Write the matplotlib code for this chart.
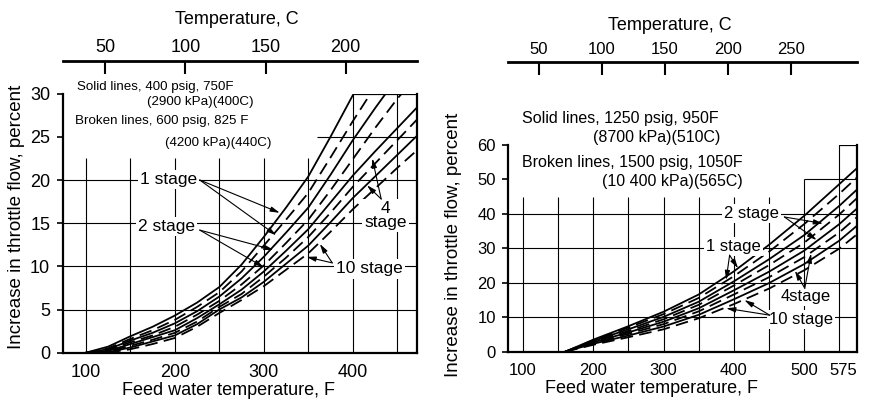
import matplotlib
matplotlib.use('Agg')
import matplotlib.pyplot as plt

plt.rcParams['font.family'] = ['Liberation Sans', 'DejaVu Sans']

# ---- left chart: 400 psig / 600 psig, throttle flow increase (%) vs feed water temp (F)
lo_1s_x = [100, 125, 150, 175, 200, 225, 250, 275, 300, 325, 350, 375, 400, 401]
lo_1s_y = [0, 0.7, 1.9, 3.0, 4.3, 5.8, 7.6, 10.2, 13.4, 16.8, 20.4, 25.0, 29.8, 30]
lo_1b_x = [100, 125, 150, 175, 200, 225, 250, 275, 300, 325, 350, 375, 400, 420]
lo_1b_y = [0, 0.5, 1.6, 2.6, 3.8, 5.3, 7.0, 9.4, 12.4, 15.4, 18.5, 22.6, 26.8, 30]
lo_2s_x = [100, 125, 150, 175, 200, 225, 250, 275, 300, 325, 350, 375, 400, 425, 437]
lo_2s_y = [0, 0.4, 1.4, 2.3, 3.4, 4.8, 6.5, 8.6, 11.1, 13.9, 16.8, 20.6, 24.6, 28.3, 30]
lo_2b_x = [100, 125, 150, 175, 200, 225, 250, 275, 300, 325, 350, 375, 400, 425, 450, 455]
lo_2b_y = [0, 0.3, 1.2, 2.0, 3.0, 4.4, 6.0, 7.9, 10.1, 12.7, 15.4, 18.8, 22.4, 26.0, 29.4, 30]
lo_4s_x = [105, 125, 150, 175, 200, 225, 250, 275, 300, 325, 350, 375, 400, 425, 450, 475]
lo_4s_y = [0, 0.2, 1.0, 1.8, 2.6, 4.0, 5.6, 7.3, 9.4, 11.8, 14.3, 17.4, 20.5, 23.3, 26.0, 28.7]
lo_4b_x = [110, 125, 150, 175, 200, 225, 250, 275, 300, 325, 350, 375, 400, 425, 450, 475]
lo_4b_y = [0, 0.1, 0.8, 1.5, 2.3, 3.6, 5.3, 6.8, 8.8, 11.0, 13.4, 16.2, 19.2, 21.9, 24.6, 27.3]
lo_10s_x = [115, 125, 150, 175, 200, 225, 250, 275, 300, 325, 350, 375, 400, 425, 450, 475]
lo_10s_y = [0, 0.05, 0.6, 1.3, 2.0, 3.3, 5.0, 6.4, 8.2, 10.3, 12.4, 15.1, 17.9, 20.4, 22.9, 25.4]
lo_10b_x = [125, 150, 175, 200, 225, 250, 275, 300, 325, 350, 375, 400, 425, 450, 475]
lo_10b_y = [0, 0.4, 1.0, 1.7, 3.0, 4.6, 6.1, 7.7, 9.6, 11.5, 14.0, 16.6, 19.0, 21.4, 23.7]

# ---- right chart: 1250 psig / 1500 psig
hi_x = [160, 200, 250, 300, 350, 400, 450, 500, 550, 575]
hi_1s = [0, 3.5, 7.4, 11.6, 16.6, 23.3, 31.0, 39.4, 48.6, 53.2]
hi_1b = [0, 3.3, 7.0, 10.9, 15.6, 21.9, 29.0, 37.0, 45.8, 50.5]
hi_2s = [0, 3.1, 6.5, 10.1, 14.5, 20.4, 26.8, 33.8, 42.3, 47.0]
hi_2b = [0, 2.9, 6.0, 9.4, 13.6, 19.2, 25.1, 31.6, 39.8, 44.5]
hi_4s = [0, 2.7, 5.6, 8.7, 12.6, 17.8, 23.2, 29.3, 37.0, 41.5]
hi_4b = [0, 2.5, 5.2, 8.0, 11.7, 16.6, 21.6, 27.4, 34.6, 39.0]
hi_10s = [0, 2.3, 4.7, 7.3, 10.7, 15.2, 19.9, 25.4, 32.2, 36.5]
hi_10b = [0, 2.0, 4.2, 6.5, 9.7, 13.8, 18.3, 23.6, 29.9, 34.0]

lo_ticks_f = [100, 200, 300, 400]
lo_ticks_y = [0, 5, 10, 15, 20, 25, 30]
lo_ticks_c = [50, 100, 150, 200]
hi_ticks_f = [100, 200, 300, 400, 500, 575]
hi_ticks_y = [0, 10, 20, 30, 40, 50, 60]
hi_ticks_c = [50, 100, 150, 200, 250]

DASH = (7, 3.5)


def f_to_c(f):
    return (f - 32) / 1.8


def c_to_f(c):
    return c * 1.8 + 32


def draw_curve(ax, x, y, broken):
    if broken:
        ax.plot(x, y, color='black', lw=1.3, dashes=DASH, zorder=2)
    else:
        ax.plot(x, y, color='black', lw=1.3, zorder=2)


def setup_axes(ax, xlim, ylim, xticks, yticks, cticks, top_loc, size):
    ax.set_xlim(*xlim)
    ax.set_ylim(*ylim)
    ax.set_xticks(xticks)
    ax.set_yticks(yticks)
    ax.spines['top'].set_visible(False)
    for s in ['left', 'right', 'bottom']:
        ax.spines[s].set_linewidth(1.6)
    ax.tick_params(axis='x', length=0, pad=8, labelsize=size)
    ax.tick_params(axis='y', direction='out', length=4, width=1.2, pad=5, labelsize=size)

    top = ax.secondary_xaxis(top_loc, functions=(f_to_c, c_to_f))
    top.set_xticks(cticks)
    top.tick_params(direction='in', length=9, width=1.5, pad=3.5, labelsize=size)
    top.spines['top'].set_linewidth(2.0)


fig = plt.figure(figsize=(8.69, 4.0), dpi=100)

# ================= left panel =================
ax1 = fig.add_axes([0.0722, 0.1183, 0.4074, 0.6475])
setup_axes(ax1, (74, 472), (0, 30), lo_ticks_f, lo_ticks_y, lo_ticks_c, 1.126, 13)

grid_kw = dict(color='black', lw=0.8, zorder=1)
ax1.hlines([5, 10, 15, 20], 74, 472, **grid_kw)
ax1.hlines(25, 360, 472, **grid_kw)
ax1.hlines(30, 400, 472, color='black', lw=1.6, zorder=1)
ax1.vlines([100, 150, 200, 250, 300, 350], 0, 22.5, **grid_kw)
ax1.vlines([400, 450], 0, 30, **grid_kw)

draw_curve(ax1, lo_1s_x, lo_1s_y, False)
draw_curve(ax1, lo_1b_x, lo_1b_y, True)
draw_curve(ax1, lo_2s_x, lo_2s_y, False)
draw_curve(ax1, lo_2b_x, lo_2b_y, True)
draw_curve(ax1, lo_4s_x, lo_4s_y, False)
draw_curve(ax1, lo_4b_x, lo_4b_y, True)
draw_curve(ax1, lo_10s_x, lo_10s_y, False)
draw_curve(ax1, lo_10b_x, lo_10b_y, True)

ax1.text(90, 30.8, 'Solid lines, 400 psig, 750F', fontsize=9.6, va='center')
ax1.text(169, 29.0, '(2900 kPa)(400C)', fontsize=9.6, va='center')
ax1.text(88, 26.8, 'Broken lines, 600 psig, 825 F', fontsize=9.6, va='center')
ax1.text(189, 24.3, '(4200 kPa)(440C)', fontsize=9.6, va='center')

lab_kw = dict(fontsize=12.5, ha='center', va='center', zorder=3,
              bbox=dict(facecolor='white', edgecolor='none', pad=1.5))
arr_kw = dict(arrowstyle='-|>,head_length=0.55,head_width=0.15', color='black',
              lw=0.8, shrinkA=0, shrinkB=0)

ax1.text(193, 20.1, '1 stage', **lab_kw)
for tip in [(318, 16.2), (314, 13.6)]:
    ax1.annotate('', xy=tip, xytext=(228, 20.0), arrowprops=arr_kw, zorder=4)

ax1.text(191, 14.6, '2 stage', **lab_kw)
for tip in [(311, 11.9), (300, 9.9)]:
    ax1.annotate('', xy=tip, xytext=(228, 14.2), arrowprops=arr_kw, zorder=4)

ax1.text(437, 15.9, '4\nstage', linespacing=0.95, **lab_kw)
for tip in [(422, 22.5), (416, 19.4)]:
    ax1.annotate('', xy=tip, xytext=(432, 17.8), arrowprops=arr_kw, zorder=4)

ax1.text(419, 9.7, '10 stage', **lab_kw)
for tip in [(363, 12.6), (348, 11.1)]:
    ax1.annotate('', xy=tip, xytext=(377, 10.4), arrowprops=arr_kw, zorder=4)

fig.text(16.7 / 869, 1 - 217 / 400, 'Increase in throttle flow, percent',
         rotation=90, fontsize=13.5, ha='center', va='center')
fig.text(228 / 869, 1 - 390.5 / 400, 'Feed water temperature, F',
         fontsize=13, ha='center', va='center')
fig.text(236.7 / 869, 1 - 20 / 400, 'Temperature, C',
         fontsize=13, ha='center', va='center')

# ================= right panel =================
ax2 = fig.add_axes([0.585, 0.1208, 0.4009, 0.5168])
setup_axes(ax2, (79, 575), (0, 60), hi_ticks_f, hi_ticks_y, hi_ticks_c, 1.403, 12)
ax2.get_xticklabels()[-1].set_ha('right')

ax2.hlines([10, 20, 30, 40], 79, 575, **grid_kw)
ax2.hlines(50, 500, 575, **grid_kw)
ax2.hlines(60, 550, 575, color='black', lw=1.6, zorder=1)
ax2.vlines([100, 150, 200, 250, 300, 350, 400, 450], 0, 45, **grid_kw)
ax2.vlines(500, 0, 50, **grid_kw)
ax2.vlines(550, 0, 60, **grid_kw)

draw_curve(ax2, hi_x, hi_1s, False)
draw_curve(ax2, hi_x, hi_1b, True)
draw_curve(ax2, hi_x, hi_2s, False)
draw_curve(ax2, hi_x, hi_2b, True)
draw_curve(ax2, hi_x, hi_4s, False)
draw_curve(ax2, hi_x, hi_4b, True)
draw_curve(ax2, hi_x, hi_10s, False)
draw_curve(ax2, hi_x, hi_10b, True)

ax2.text(99, 67.7, 'Solid lines, 1250 psig, 950F', fontsize=11.5, va='center')
ax2.text(199, 62.3, '(8700 kPa)(510C)', fontsize=11.5, va='center')
ax2.text(99, 54.8, 'Broken lines, 1500 psig, 1050F', fontsize=11.5, va='center')
ax2.text(213, 49.3, '(10 400 kPa)(565C)', fontsize=11.5, va='center')

lab_kw2 = dict(lab_kw, fontsize=12)
ax2.text(425, 40.1, '2 stage', **lab_kw2)
for tip in [(527, 37.2), (518, 32.4)]:
    ax2.annotate('', xy=tip, xytext=(472, 39.1), arrowprops=arr_kw, zorder=4)

ax2.text(399, 30.4, '1 stage', **lab_kw2)
for tip in [(389, 20.8), (406, 24.2)]:
    ax2.annotate('', xy=tip, xytext=(394, 28.0), arrowprops=arr_kw, zorder=4)

ax2.text(503, 15.9, '4stage', **lab_kw2)
for tip in [(487, 23.5), (510, 28.5)]:
    ax2.annotate('', xy=tip, xytext=(501, 18.4), arrowprops=arr_kw, zorder=4)

ax2.text(496, 9.2, '10 stage', **lab_kw2)
for tip in [(415, 15.0), (389, 12.6)]:
    ax2.annotate('', xy=tip, xytext=(451, 10.6), arrowprops=arr_kw, zorder=4)

fig.text(453 / 869, 1 - 245 / 400, 'Increase in throttle flow, percent',
         rotation=90, fontsize=13.5, ha='center', va='center')
fig.text(651.7 / 869, 1 - 388.3 / 400, 'Feed water temperature, F',
         fontsize=13, ha='center', va='center')
fig.text(670 / 869, 1 - 25 / 400, 'Temperature, C',
         fontsize=13, ha='center', va='center')

fig.savefig('out.png', dpi=100)
